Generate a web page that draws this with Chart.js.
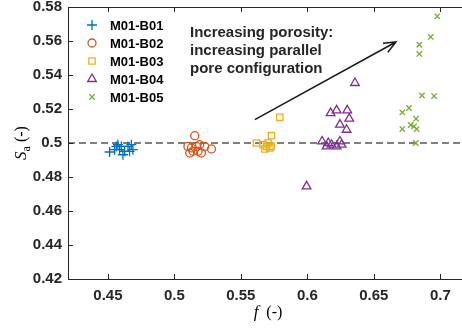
<!DOCTYPE html>
<html>
<head>
<meta charset="utf-8">
<script src="https://cdn.jsdelivr.net/npm/chart.js@4/dist/chart.umd.min.js"></script>
<style>
  html, body { margin: 0; padding: 0; background: #fff; overflow: hidden; }
  canvas { display: block; }
</style>
</head>
<body>
<canvas id="chart" width="462" height="328"></canvas>
<script>
// porosity f and S_a for each sample group
const b01_f = [0.4513, 0.4550, 0.4575, 0.4601, 0.4626, 0.4651, 0.4676, 0.4688, 0.4613, 0.4588, 0.4663, 0.4563]
const b01_s = [0.4947, 0.4961, 0.4990, 0.4980, 0.4951, 0.4980, 0.4990, 0.4961, 0.4931, 0.4961, 0.4951, 0.4980]

const b02_f = [0.5153, 0.5102, 0.5128, 0.5166, 0.5190, 0.5228, 0.5279, 0.5115, 0.5203, 0.5140, 0.5178]
const b02_s = [0.5043, 0.4980, 0.4971, 0.4980, 0.4990, 0.4980, 0.4965, 0.4941, 0.4941, 0.4951, 0.4951]

const b03_f = [0.5793, 0.5730, 0.5617, 0.5667, 0.5693, 0.5718, 0.5680, 0.5705, 0.5730]
const b03_s = [0.5151, 0.5043, 0.5000, 0.4990, 0.4980, 0.4971, 0.4965, 0.5000, 0.4980]

const b04_f = [0.6358, 0.6175, 0.6220, 0.6300, 0.6315, 0.6245, 0.6295, 0.6111, 0.6157, 0.6182, 0.6245, 0.6258, 0.6220, 0.6145, 0.5994]
const b04_s = [0.5353, 0.5176, 0.5192, 0.5192, 0.5143, 0.5108, 0.5078, 0.5009, 0.5000, 0.4990, 0.5009, 0.4990, 0.4980, 0.4980, 0.4745]

const b05_f = [0.6977, 0.6928, 0.6842, 0.6842, 0.6862, 0.6953, 0.6714, 0.6764, 0.6817, 0.6714, 0.6777, 0.6802, 0.6822, 0.6815]
const b05_s = [0.5745, 0.5624, 0.5578, 0.5524, 0.5280, 0.5276, 0.5180, 0.5206, 0.5143, 0.5082, 0.5106, 0.5098, 0.5082, 0.5000]

const ref_f = [0.42, 0.72]
const ref_s = [0.5, 0.5]

const arrow_f = [0.5605, 0.6666]
const arrow_s = [0.5137, 0.5594]

const xTicks = [0.45, 0.5, 0.55, 0.6, 0.65, 0.7]
const yTicks = [0.42, 0.44, 0.46, 0.48, 0.5, 0.52, 0.54, 0.56, 0.58]

const legendNames = ['M01-B01', 'M01-B02', 'M01-B03', 'M01-B04', 'M01-B05']
const noteLines = ['Increasing porosity:', 'increasing parallel', 'pore configuration']

function pts(xs, ys) {
    return xs.map((x, i) => ({x: x, y: ys[i]}))
}

const axisColor = '#262626'

groups = [
    {f: b01_f, s: b01_s, color: '#0072BD', style: 'cross', r: 5},
    {f: b02_f, s: b02_s, color: '#D95319', style: 'circle', r: 4},
    {f: b03_f, s: b03_s, color: '#EDB120', style: 'rect', r: 4.5},
    {f: b04_f, s: b04_s, color: '#7E2F8E', style: 'triangle', r: 5},
    {f: b05_f, s: b05_s, color: '#77AC30', style: 'crossRot', r: 3.8},
]

datasets = []
groups.forEach((g, i) => {
    datasets.push({
        label: legendNames[i],
        data: pts(g.f, g.s),
        pointStyle: g.style,
        pointRadius: g.r,
        pointHoverRadius: g.r,
        borderColor: g.color,
        backgroundColor: 'rgba(0,0,0,0)',
        pointBorderWidth: 1.3,
        showLine: false,
    })
})

datasets.push({
    label: 'ref',
    data: pts(ref_f, ref_s),
    showLine: true,
    borderColor: '#000',
    borderWidth: 1.2,
    borderDash: [7, 4],
    pointRadius: 0,
})

// axes box with inward ticks, axis titles, arrow, note and legend
const decor = {
    id: 'decor',
    afterDraw(chart) {
        const ctx = chart.ctx
        const xs = chart.scales.x, ys = chart.scales.y
        const a = chart.chartArea
        ctx.save()
        ctx.strokeStyle = axisColor
        ctx.lineWidth = 1
        ctx.beginPath()
        ctx.moveTo(a.left + 0.5, a.top + 0.5)
        ctx.lineTo(a.left + 0.5, a.bottom + 0.5)
        ctx.lineTo(a.right, a.bottom + 0.5)
        ctx.moveTo(a.left + 0.5, a.top + 0.5)
        ctx.lineTo(a.right, a.top + 0.5)
        xTicks.forEach(t => {
            const px = Math.round(xs.getPixelForValue(t)) + 0.5
            ctx.moveTo(px, a.bottom); ctx.lineTo(px, a.bottom - 5)
            ctx.moveTo(px, a.top); ctx.lineTo(px, a.top + 5)
        })
        yTicks.forEach(t => {
            const py = Math.round(ys.getPixelForValue(t)) + 0.5
            ctx.moveTo(a.left, py); ctx.lineTo(a.left + 5, py)
        })
        ctx.stroke()

        // arrow
        const x0 = xs.getPixelForValue(arrow_f[0]), y0 = ys.getPixelForValue(arrow_s[0])
        const x1 = xs.getPixelForValue(arrow_f[1]), y1 = ys.getPixelForValue(arrow_s[1])
        const ang = Math.atan2(y1 - y0, x1 - x0)
        ctx.strokeStyle = '#1a1a1a'
        ctx.lineWidth = 1.5
        ctx.beginPath()
        ctx.moveTo(x0, y0); ctx.lineTo(x1, y1)
        ctx.moveTo(x1 - 13 * Math.cos(ang - 0.4), y1 - 13 * Math.sin(ang - 0.4))
        ctx.lineTo(x1, y1)
        ctx.lineTo(x1 - 13 * Math.cos(ang + 0.4), y1 - 13 * Math.sin(ang + 0.4))
        ctx.stroke()

        // note
        ctx.fillStyle = axisColor
        ctx.font = 'bold 15px "Liberation Sans", Arial, sans-serif'
        ctx.textBaseline = 'alphabetic'
        ctx.textAlign = 'left'
        noteLines.forEach((s, i) => ctx.fillText(s, 190, 37 + i * 18))

        // legend
        ctx.font = 'bold 13px "Liberation Sans", Arial, sans-serif'
        ctx.textBaseline = 'middle'
        groups.forEach((g, i) => {
            const ly = 25 + i * 18
            ctx.strokeStyle = g.color
            ctx.fillStyle = 'rgba(0,0,0,0)'
            ctx.lineWidth = 1.3
            Chart.helpers.drawPoint(ctx, {pointStyle: g.style, radius: g.r, borderWidth: 1.3, rotation: 0}, 92, ly)
            ctx.fillStyle = '#000'
            ctx.fillText(legendNames[i], 110, ly + 1)
        })

        // axis titles
        ctx.fillStyle = '#000'
        ctx.textBaseline = 'middle'
        ctx.font = 'italic 17px "Liberation Serif", "Times New Roman", serif'
        const fw = ctx.measureText('f').width
        ctx.font = '16px "Liberation Serif", "Times New Roman", serif'
        const pw = ctx.measureText('  (-)').width
        let sx = 268 - (fw + pw) / 2
        ctx.font = 'italic 17px "Liberation Serif", "Times New Roman", serif'
        ctx.fillText('f', sx, 313)
        ctx.font = '16px "Liberation Serif", "Times New Roman", serif'
        ctx.fillText('  (-)', sx + fw, 313)

        ctx.translate(22, 143)
        ctx.rotate(-Math.PI / 2)
        ctx.font = 'italic 17px "Liberation Serif", "Times New Roman", serif'
        const sw = ctx.measureText('S').width
        ctx.font = '12px "Liberation Serif", "Times New Roman", serif'
        const aw = ctx.measureText('a').width
        ctx.font = '16px "Liberation Serif", "Times New Roman", serif'
        const rw = ctx.measureText(' (-)').width
        let tx = -(sw + aw + rw) / 2
        ctx.font = 'italic 17px "Liberation Serif", "Times New Roman", serif'
        ctx.fillText('S', tx, 0)
        ctx.font = '12px "Liberation Serif", "Times New Roman", serif'
        ctx.fillText('a', tx + sw, 5)
        ctx.font = '16px "Liberation Serif", "Times New Roman", serif'
        ctx.fillText(' (-)', tx + sw + aw, 0)
        ctx.restore()
    }
}

const tickFont = {family: '"Liberation Sans", Arial, sans-serif', weight: 'bold', size: 15}

new Chart(document.getElementById('chart').getContext('2d'), {
    type: 'scatter',
    data: {datasets: datasets},
    options: {
        responsive: false,
        animation: false,
        // autoPadding would keep room for marker radius on the right, plot runs to the edge here
        layout: {autoPadding: false, padding: {top: 7, right: 0, bottom: 0, left: 0}},
        scales: {
            x: {
                type: 'linear',
                min: 0.42,
                max: 0.7163,
                afterBuildTicks: s => { s.ticks = xTicks.map(v => ({value: v})) },
                afterFit: s => { s.height = 49; s.paddingLeft = 0; s.paddingRight = 0 },
                grid: {display: false, drawTicks: false},
                border: {display: false},
                ticks: {
                    padding: 8,
                    color: axisColor,
                    font: tickFont,
                    callback: v => String(+v.toFixed(2)),
                },
            },
            y: {
                type: 'linear',
                min: 0.42,
                max: 0.58,
                afterBuildTicks: s => { s.ticks = yTicks.map(v => ({value: v})) },
                afterFit: s => { s.width = 68; s.paddingTop = 0; s.paddingBottom = 0 },
                grid: {display: false, drawTicks: false},
                border: {display: false},
                ticks: {
                    padding: 6,
                    color: axisColor,
                    font: tickFont,
                    callback: v => String(+v.toFixed(2)),
                },
            },
        },
        plugins: {
            legend: {display: false},
            tooltip: {enabled: false},
        },
    },
    plugins: [decor],
})
</script>
</body>
</html>
